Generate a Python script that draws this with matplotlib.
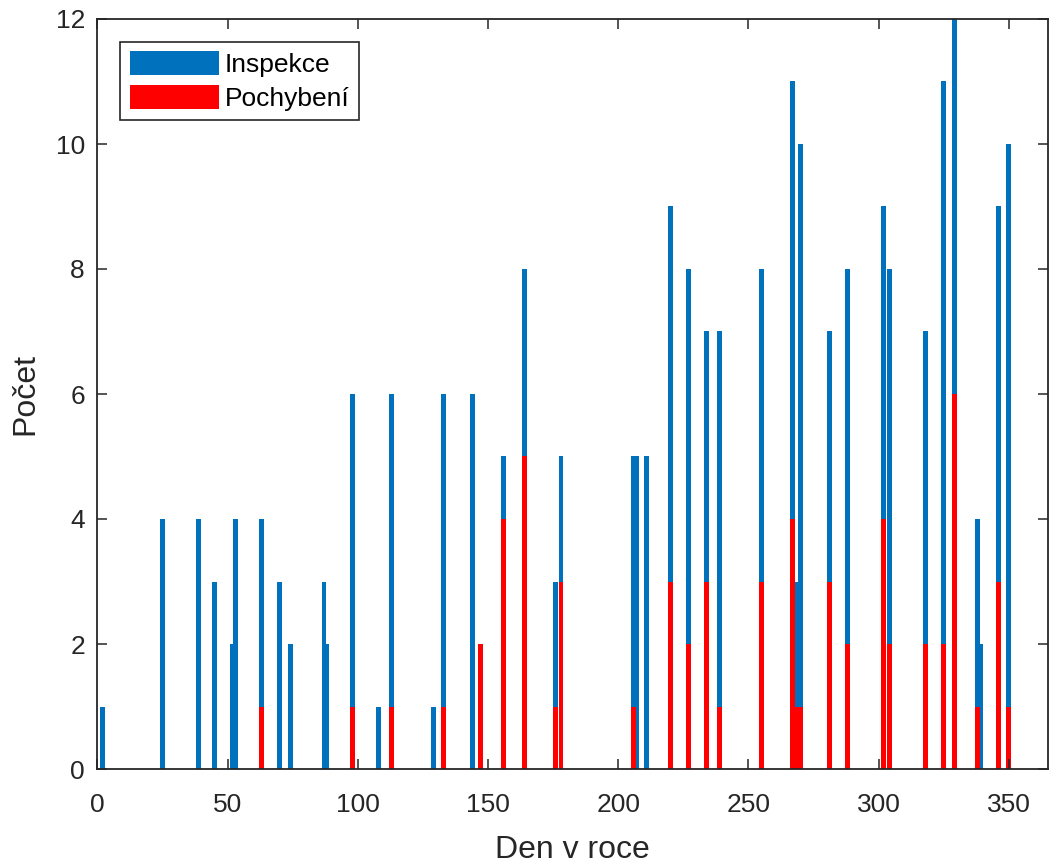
import matplotlib
matplotlib.use('Agg')
import matplotlib.pyplot as plt

# data
days = [2, 25, 39, 45, 52, 53, 63, 70, 74, 87, 88, 98, 108, 113, 129, 133, 144, 147,
        156, 164, 176, 178, 206, 207, 211, 220, 227, 234, 239, 255, 267, 268, 270,
        281, 288, 302, 304, 318, 325, 329, 338, 339, 346, 350]
inspekce = [1, 4, 4, 3, 2, 4, 4, 3, 2, 3, 2, 6, 1, 6, 1, 6, 6, 2,
            5, 8, 3, 5, 5, 5, 5, 9, 8, 7, 7, 8, 11, 3, 10,
            7, 8, 9, 8, 7, 11, 12, 4, 2, 9, 10]
pochybeni = [0, 0, 0, 0, 0, 0, 1, 0, 0, 0, 0, 1, 0, 1, 0, 1, 0, 2,
             4, 5, 1, 3, 1, 0, 0, 3, 2, 3, 1, 3, 4, 1, 1,
             3, 2, 4, 2, 2, 2, 6, 1, 0, 3, 1]

plt.rcParams['font.family'] = ['Liberation Sans', 'DejaVu Sans']
dark = '#262626'

fig = plt.figure(figsize=(10.49, 8.63), dpi=100)
ax = fig.add_axes([97.4 / 1049, 1 - 769 / 863, (1048 - 97.4) / 1049, 750 / 863])

ax.bar(days, inspekce, width=1.9, color='#0072BD', label='Inspekce', linewidth=0)
ax.bar(days, pochybeni, width=1.9, color='#FF0000', label='Pochybení', linewidth=0)

ax.set_xlim(0, 365)
ax.set_ylim(0, 12)
ax.set_xticks(range(0, 351, 50))
ax.set_yticks(range(0, 13, 2))
ax.tick_params(direction='in', length=7, width=1.1, colors=dark, labelsize=19,
               top=True, right=True)
ax.tick_params(axis='x', pad=17)
ax.tick_params(axis='y', pad=9)
for s in ax.spines.values():
    s.set_color(dark)
    s.set_linewidth(1.3)

ax.set_xlabel('Den v roce', fontsize=23, color=dark, labelpad=13)
ax.set_ylabel('Počet', fontsize=23, color=dark, labelpad=11)

leg = ax.legend(loc='upper left', bbox_to_anchor=(0.0242, 0.969), borderaxespad=0,
                fontsize=19, fancybox=False, edgecolor=dark, framealpha=1,
                handlelength=3.4, handleheight=1.0, handletextpad=0.2,
                labelspacing=0.3, borderpad=0.35)
leg.get_frame().set_linewidth(1.2)

fig.savefig('out.png', dpi=100)
